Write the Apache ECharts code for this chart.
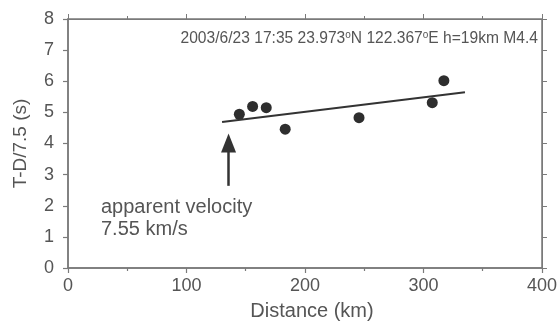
<!DOCTYPE html>
<html>
<head>
<meta charset="utf-8">
<script src="https://cdn.jsdelivr.net/npm/echarts@6/dist/echarts.min.js"></script>
<style>
  html, body { margin: 0; padding: 0; background: #fff; }
  #chart { width: 560px; height: 326px; }
</style>
</head>
<body>
<div id="chart"></div>
<script>
// station distance (km) vs reduced travel time T-D/7.5 (s)
const distances = [144.6, 155.8, 167.3, 183.3, 245.6, 307.4, 317.2]
const reducedTimes = [4.94, 5.19, 5.15, 4.46, 4.83, 5.31, 6.02]

// fitted line, end points
const fitLine = [[130, 4.69], [335, 5.65]]

// arrow: tail and centre of the head (tip sits ~0.3 s above)
const arrowFrom = [135.5, 2.64]
const arrowHead = [135.5, 4.02]

const xTicks = [0, 100, 200, 300, 400]
const yTicks = [0, 1, 2, 3, 4, 5, 6, 7, 8]

const axisGray = '#7a7a7a'
const textGray = '#555'
const font = '"Liberation Sans", Arial, sans-serif'

const chart = echarts.init(document.getElementById('chart'))

chart.setOption({
  animation: false,
  backgroundColor: '#fff',
  grid: { left: 68, right: 17, top: 19, bottom: 55, show: true, borderColor: axisGray, borderWidth: 1.5 },
  textStyle: { fontFamily: font },
  xAxis: [
    {
      type: 'value',
      position: 'bottom',
      min: xTicks[0],
      max: xTicks[xTicks.length - 1],
      interval: 100,
      name: 'Distance (km)',
      nameLocation: 'middle',
      nameGap: 33,
      nameTextStyle: { color: textGray, fontSize: 20, fontFamily: font, padding: [0, 0, 0, 14] },
      axisLine: { show: true, lineStyle: { color: axisGray, width: 1.5 } },
      axisTick: { show: true, length: 5, lineStyle: { color: axisGray, width: 1.2 } },
      minorTick: { show: true, splitNumber: 2, length: 3, lineStyle: { color: axisGray, width: 1.2 } },
      splitLine: { show: false },
      axisLabel: { color: textGray, fontSize: 18, margin: 9, fontFamily: font },
    },
    {
      type: 'value',
      position: 'top',
      min: xTicks[0],
      max: xTicks[xTicks.length - 1],
      interval: 100,
      axisLine: { show: true, onZero: false, lineStyle: { color: axisGray } },
      axisTick: { show: true, length: 5, lineStyle: { color: axisGray } },
      minorTick: { show: true, splitNumber: 2, length: 3, lineStyle: { color: axisGray } },
      splitLine: { show: false },
      axisLabel: { show: false },
    },
  ],
  yAxis: [
    {
      type: 'value',
      position: 'left',
      min: yTicks[0],
      max: yTicks[yTicks.length - 1],
      interval: 1,
      name: 'T-D/7.5 (s)',
      nameLocation: 'middle',
      nameGap: 38,
      nameTextStyle: { color: textGray, fontSize: 19, fontFamily: font },
      axisLine: { show: true, lineStyle: { color: axisGray, width: 1.5 } },
      axisTick: { show: true, length: 5, lineStyle: { color: axisGray, width: 1.2 } },
      splitLine: { show: false },
      axisLabel: { color: textGray, fontSize: 18, margin: 14, fontFamily: font },
    },
    {
      type: 'value',
      position: 'right',
      min: yTicks[0],
      max: yTicks[yTicks.length - 1],
      interval: 1,
      axisLine: { show: true, onZero: false, lineStyle: { color: axisGray } },
      axisTick: { show: true, length: 5, lineStyle: { color: axisGray } },
      splitLine: { show: false },
      axisLabel: { show: false },
    },
  ],
  series: [
    {
      type: 'line',
      xAxisIndex: 1,
      yAxisIndex: 1,
      data: fitLine,
      symbol: 'none',
      lineStyle: { color: '#333', width: 2 },
      markLine: {
        silent: true,
        symbol: ['none', 'triangle'],
        symbolSize: [15, 19],
        label: { show: false },
        lineStyle: { color: '#333', width: 2.5, type: 'solid' },
        data: [[{ coord: arrowFrom }, { coord: arrowHead }]],
      },
    },
    {
      type: 'scatter',
      data: distances.map((d, i) => [d, reducedTimes[i]]),
      symbolSize: 11,
      itemStyle: { color: '#2e2e2e', opacity: 1 },
    },
  ],
  graphic: [
    {
      type: 'text',
      right: 22,
      top: 30,
      style: {
        text: '2003/6/23 17:35 23.973{sup|o}N 122.367{sup|o}E h=19km M4.4',
        font: '15.6px ' + font,
        lineHeight: 18,
        fill: textGray,
        rich: {
          sup: { fontSize: 10, lineHeight: 9, verticalAlign: 'top', fill: textGray },
        },
      },
    },
    {
      type: 'text',
      left: 101,
      top: 196,
      style: {
        text: 'apparent velocity\n7.55 km/s',
        font: '20px ' + font,
        lineHeight: 22,
        fill: textGray,
      },
    },
  ],
})
</script>
</body>
</html>
